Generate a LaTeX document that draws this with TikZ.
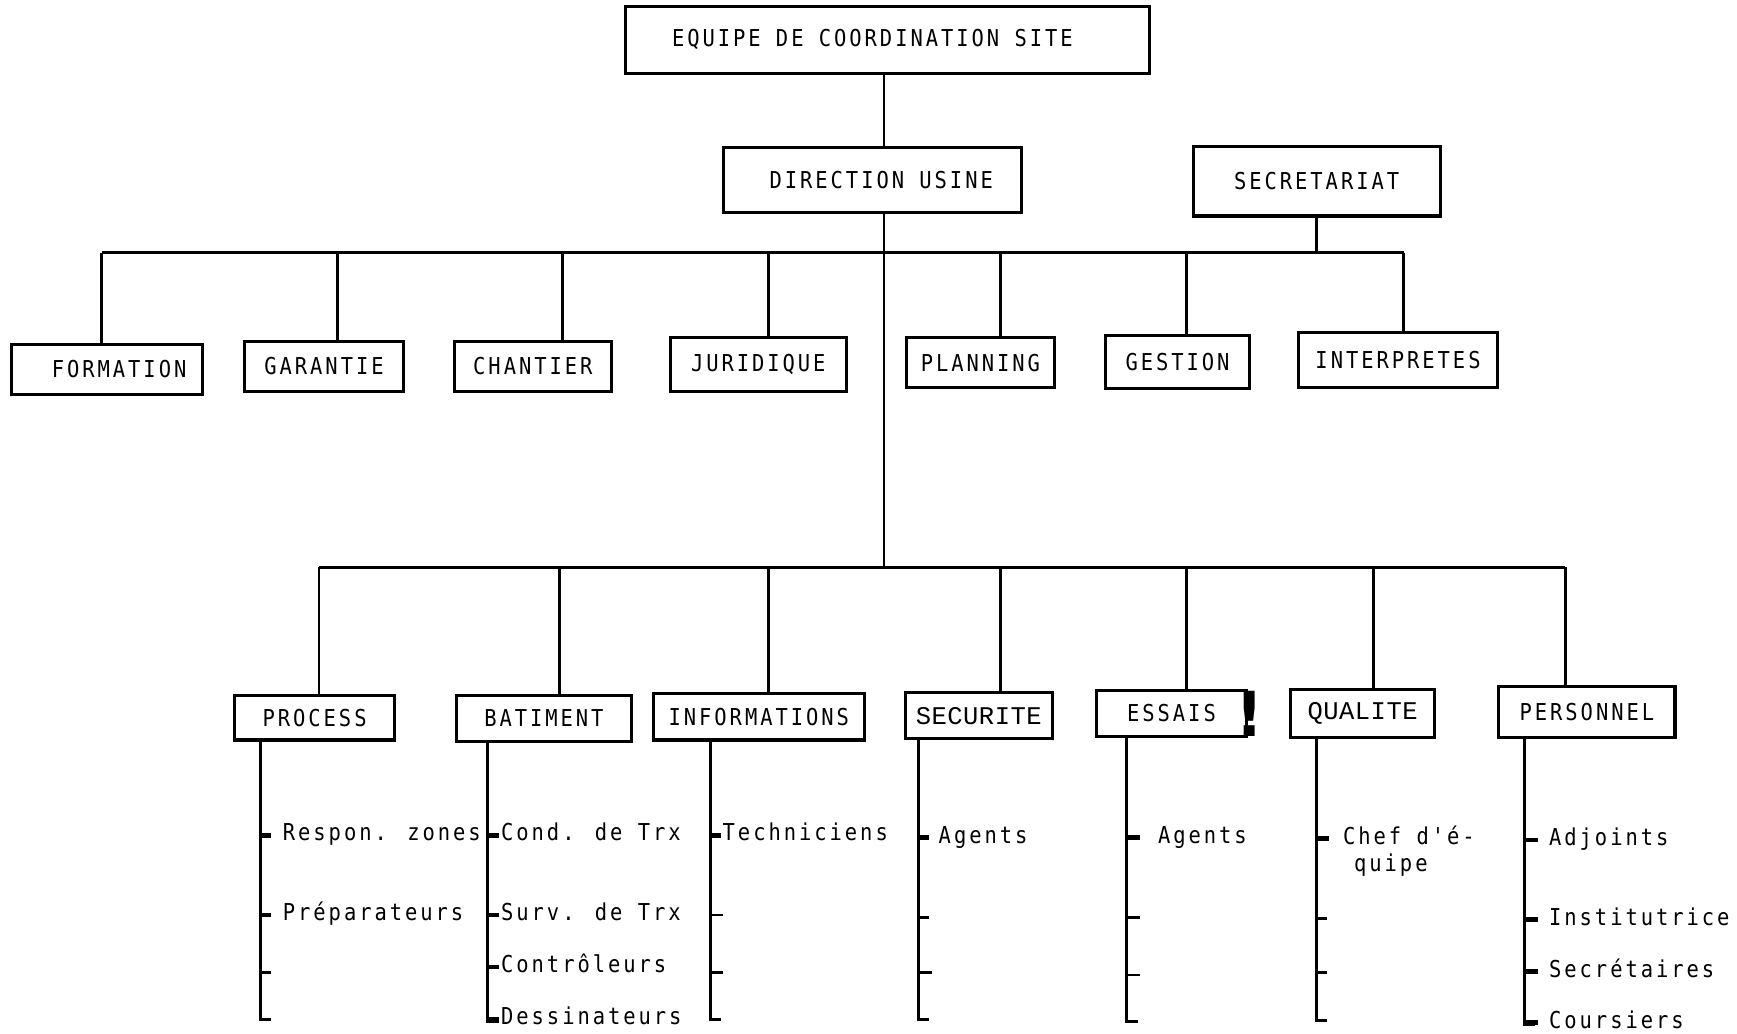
\documentclass[tikz,border=0pt]{standalone}
\usepackage{fontspec}
\newfontfamily\twfont[LetterSpace=12.7,FakeStretch=0.88]{DejaVu Sans Mono}
\newfontfamily\crfont[LetterSpace=2]{Liberation Mono}
\newfontfamily\bangfont{DejaVu Sans}
\begin{document}
\begin{tikzpicture}[x=0.5pt,y=-0.5pt,
  box/.style={draw, line width=1.4pt, inner sep=0pt, font=\twfont\fontsize{10.5}{12}\selectfont},
  crbox/.style={box, font=\crfont\fontsize{11.5}{12}\selectfont},
  ln/.style={line width=1.3pt},
  tk/.style={line width=1.2pt},
  tkb/.style={line width=2pt},
  item/.style={anchor=west, inner sep=0pt, text height=7pt, text depth=2pt, font=\twfont\fontsize{10.5}{12}\selectfont},
  bang/.style={inner sep=0pt, font=\bangfont\bfseries\fontsize{28}{28}\selectfont}]
\useasboundingbox (0,0) rectangle (1568,933);
\fill[white] (0,0) rectangle (1568,933);

% level 0/1
\node[box, minimum width=236.5pt, minimum height=30pt] (top) at (801.5,36) {EQUIPE DE COORDINATION SITE\hspace*{14pt}};
\node[box, minimum width=134.5pt, minimum height=29.5pt] (dir) at (787.5,162.5) {\hspace*{8pt}DIRECTION USINE};
\node[box, minimum width=111.5pt, minimum height=31.5pt] (sec) at (1188.5,163.5) {SECRETARIAT};

% level 2
\node[box, minimum width=86.5pt, minimum height=22.5pt] (form) at (96.5,333.5) {\hspace*{11pt}FORMATION};
\node[box, minimum width=71.5pt, minimum height=22.5pt] (gar) at (292.5,330.5) {GARANTIE};
\node[box, minimum width=71pt, minimum height=22.5pt] (chan) at (481,330.5) {CHANTIER};
\node[box, minimum width=79.5pt, minimum height=24pt] (jur) at (684.5,329) {JURIDIQUE};
\node[box, minimum width=67pt, minimum height=22.5pt] (plan) at (885,327.5) {PLANNING};
\node[box, minimum width=65pt, minimum height=24pt] (gest) at (1063,327) {GESTION};
\node[box, minimum width=90pt, minimum height=25pt] (intp) at (1262,325) {INTERPRETES};

% level 3
\node[box, minimum width=72pt, minimum height=20pt] (proc) at (284,648) {PROCESS};
\node[box, minimum width=79pt, minimum height=20.5pt] (bat) at (491,648.5) {BATIMENT};
\node[box, minimum width=95pt, minimum height=21pt] (info) at (685,647) {INFORMATIONS};
\node[crbox, minimum width=66.5pt, minimum height=21pt] (secu) at (883.5,646) {SECURITE};
\node[box, minimum width=67.5pt, minimum height=21pt] (ess) at (1057.5,644) {ESSAIS};
\node[crbox, minimum width=65pt, minimum height=22pt] (qual) at (1230,644) {QUALITE};
\node[box, minimum width=79.5pt, minimum height=23pt] (pers) at (1432.5,643) {PERSONNEL};
\node[bang] (excl) at (1128,644) {!};

% spine
\coordinate (sp) at (798,512);
\draw[ln] (sp |- top.south) -- (sp |- dir.north);
\draw[ln] (sp |- dir.south) -- (sp);

% bus 1
\foreach \n/\x in {form/92, gar/305, chan/508, jur/694, plan/903, gest/1071, intp/1267}{
  \coordinate (t\n) at (\x,228);
  \draw[ln] (t\n) -- (t\n |- \n.north);
}
\draw[ln] (tform) -- (tintp);
\draw[ln] (sec.south) -- (sec.south |- tintp);

% bus 2
\foreach \n/\x in {proc/288, bat/505, info/694, secu/903, ess/1071, qual/1240, pers/1413}{
  \coordinate (u\n) at (\x,512);
  \draw[ln] (u\n) -- (u\n |- \n.north);
}
\draw[ln] (uproc) -- (upers);

% stems with bottom L
\foreach \n/\x/\b in {proc/235/920, bat/440/922, info/641/920, secu/829/920, ess/1017/922, qual/1188/921, pers/1376/925}{
  \coordinate (s\n) at (\x,\b);
  \draw[ln] (s\n |- \n.south) -- (s\n) -- ++(10,0);
}

% PROCESS items
\node[item] (p1) at (255,754) {Respon. zones};
\node[item] (p2) at (255,826) {Préparateurs};
\draw[tkb] (sproc |- p1.west) -- ++(10,0);
\draw[tkb] (sproc |- p2.west) -- ++(10,0);
\draw[tk] (sproc |- 0,878) -- ++(10,0);

% BATIMENT items
\node[item] (b1) at (452,754) {Cond. de Trx};
\node[item] (b2) at (452,826) {Surv. de Trx};
\node[item] (b3) at (452,873) {Contrôleurs};
\node[item] (b4) at (452,920) {Dessinateurs};
\draw[tkb] (sbat |- b1.west) -- ++(10,0);
\draw[tkb] (sbat |- b2.west) -- ++(10,0);
\draw[tkb] (sbat |- b3.west) -- ++(10,0);
\draw[tkb] (sbat |- b4.west) -- ++(10,0);

% INFORMATIONS items
\node[item] (i1) at (652,754) {Techniciens};
\draw[tkb] (sinfo |- i1.west) -- ++(10,0);
\draw[tk] (sinfo |- 0,826) -- ++(12,0);
\draw[tk] (sinfo |- 0,878) -- ++(12,0);

% SECURITE items
\node[item] (c1) at (847,756) {Agents};
\draw[tkb] (ssecu |- c1.west) -- ++(10,0);
\draw[tk] (ssecu |- 0,828) -- ++(10,0);
\draw[tk] (ssecu |- 0,878) -- ++(12,0);

% ESSAIS items
\node[item] (e1) at (1045,756) {Agents};
\draw[tkb] (sess |- e1.west) -- ++(12,0);
\draw[tk] (sess |- 0,828) -- ++(12,0);
\draw[tk] (sess |- 0,880) -- ++(12,0);

% QUALITE items
\node[item] (q1) at (1212,757) {Chef d'é-};
\node[item] (q2) at (1222,782) {quipe};
\draw[tkb] (squal |- q1.west) -- ++(12,0);
\draw[tk] (squal |- 0,829) -- ++(10,0);
\draw[tk] (squal |- 0,878) -- ++(10,0);

% PERSONNEL items
\node[item] (r1) at (1398,758) {Adjoints};
\node[item] (r2) at (1398,830) {Institutrice};
\node[item] (r3) at (1398,877) {Secrétaires};
\node[item] (r4) at (1398,923) {Coursiers};
\draw[tkb] (spers |- r1.west) -- ++(12,0);
\draw[tkb] (spers |- r2.west) -- ++(12,0);
\draw[tkb] (spers |- r3.west) -- ++(12,0);
\draw[tkb] (spers |- r4.west) -- ++(12,0);
\end{tikzpicture}
\end{document}
